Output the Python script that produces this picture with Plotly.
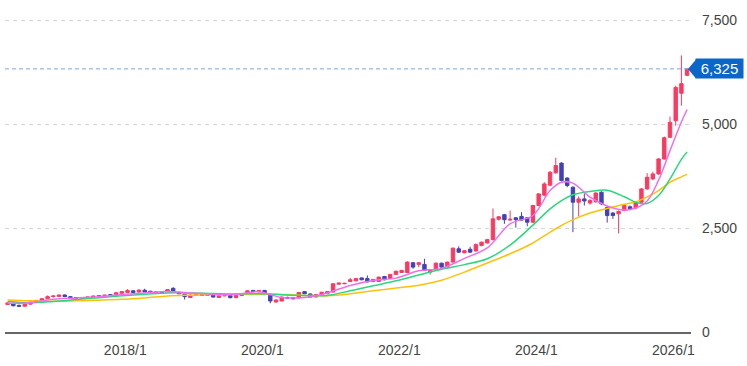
import plotly.graph_objects as go

# ---------------- data (monthly candles, 2016/5 .. 2026/4) ----------------
start_year, start_month = 2016, 5
opens = [660, 690, 640, 620, 670, 720, 760, 800, 850, 855, 890, 850, 830, 815, 825, 830,
         860, 870, 900, 880, 930, 950, 990, 960, 1005, 980, 955, 950, 970, 1050, 955, 910,
         830, 885, 895, 880, 895, 830, 870, 875, 825, 875, 945, 1000, 965, 1000, 880, 720,
         745, 830, 820, 820, 970, 915, 840, 900, 920, 960, 1150, 1160, 1215, 1230, 1300, 1285,
         1215, 1215, 1335, 1285, 1385, 1430, 1430, 1665, 1625, 1625, 1440, 1495, 1655, 1560, 1680, 2000,
         1905, 1990, 1950, 2080, 2140, 2220, 2710, 2820, 2690, 2745, 2780, 2745, 2640, 3040, 3290, 3530,
         3830, 4060, 3700, 3480, 3120, 3200, 3100, 3130, 3360, 2990, 2860, 2840, 2920, 3010, 2980, 3120,
         3440, 3680, 3800, 4160, 4680, 5080, 5740, 6170]
highs = [710, 700, 660, 680, 730, 770, 810, 880, 880, 900, 900, 860, 840, 835, 850, 875,
         890, 895, 905, 950, 985, 1030, 1000, 1020, 1040, 990, 975, 960, 1030, 1075, 965, 920,
         900, 910, 905, 905, 900, 880, 890, 885, 930, 930, 1000, 1010, 1005, 1010, 900, 785,
         850, 850, 830, 960, 985, 925, 910, 965, 985, 1170, 1185, 1180, 1300, 1295, 1310, 1360,
         1275, 1330, 1345, 1395, 1475, 1495, 1700, 1680, 1680, 1760, 1505, 1670, 1665, 1690, 2030, 2060,
         1965, 2050, 2130, 2170, 2240, 2970, 2790, 2840, 2920, 2760, 2880, 2760, 3060, 3340, 3600, 3870,
         4190, 4080, 3720, 3500, 3260, 3330, 3200, 3360, 3380, 3010, 2880, 2920, 3060, 3040, 3130, 3460,
         3820, 3850, 4180, 4700, 5180, 5920, 6650, 6340]
lows = [650, 620, 600, 610, 660, 710, 750, 790, 830, 840, 840, 800, 800, 805, 815, 825,
        850, 860, 870, 875, 920, 940, 940, 950, 955, 940, 945, 925, 960, 960, 910, 780,
        820, 875, 870, 870, 830, 820, 860, 810, 815, 865, 940, 965, 955, 930, 690, 710,
        740, 805, 790, 815, 910, 830, 835, 890, 910, 950, 1140, 1150, 1200, 1220, 1245, 1195,
        1205, 1205, 1245, 1275, 1375, 1420, 1420, 1520, 1555, 1470, 1380, 1485, 1545, 1550, 1670, 1900,
        1890, 1900, 1930, 2060, 2130, 2200, 2680, 2600, 2680, 2510, 2670, 2540, 2620, 3020, 3260, 3500,
        3800, 3620, 3480, 2400, 2780, 3040, 3060, 3110, 3050, 2630, 2720, 2370, 2900, 2930, 2950, 3100,
        3420, 3650, 3780, 4140, 4660, 4960, 5440, 6150]
closes = [700, 630, 620, 670, 720, 760, 800, 850, 865, 890, 850, 820, 815, 825, 840, 865,
          875, 885, 880, 945, 970, 1000, 950, 1010, 960, 950, 960, 935, 1020, 970, 920, 850,
          890, 900, 880, 890, 840, 870, 875, 825, 875, 920, 990, 975, 995, 940, 745, 770,
          840, 815, 800, 950, 920, 840, 900, 955, 975, 1160, 1175, 1170, 1255, 1285, 1255, 1205,
          1265, 1320, 1255, 1385, 1460, 1480, 1680, 1560, 1665, 1480, 1495, 1655, 1560, 1680, 2015, 1920,
          1955, 1920, 2100, 2160, 2220, 2720, 2770, 2700, 2710, 2700, 2690, 2640, 3040, 3320, 3560, 3840,
          4000, 3640, 3520, 3120, 3200, 3150, 3160, 3340, 3080, 2800, 2800, 2900, 3040, 2960, 3100, 3440,
          3720, 3800, 4160, 4670, 5040, 5880, 5970, 6325]

ma_months = ["2016/5", "2016/9", "2017/1", "2017/5", "2017/9", "2018/1", "2018/5", "2018/9",
             "2019/1", "2019/5", "2019/9", "2020/1", "2020/3", "2020/5", "2020/9", "2021/1",
             "2021/5", "2021/9", "2022/1", "2022/5", "2022/9", "2023/1", "2023/5", "2023/9",
             "2024/1", "2024/4", "2024/6", "2024/8", "2024/11", "2025/2", "2025/5", "2025/7",
             "2025/9", "2025/11", "2026/1", "2026/3", "2026/4"]
ma_short = [690, 705, 790, 820, 850, 900, 940, 975, 935, 910, 900, 970, 900, 830, 830, 940,
            1120, 1240, 1295, 1470, 1530, 1770, 2020, 2600, 2800, 3400, 3600, 3580, 3240, 3030,
            2930, 2980, 3150, 3650, 4360, 5050, 5350]
ma_mid = [735, 705, 735, 780, 825, 870, 905, 940, 938, 925, 915, 920, 915, 895, 878, 880,
          990, 1110, 1230, 1370, 1510, 1620, 1760, 2090, 2570, 2960, 3160, 3300, 3380, 3410,
          3250, 3120, 3090, 3280, 3680, 4150, 4330]
ma_long = [770, 750, 740, 750, 765, 785, 820, 865, 885, 900, 905, 910, 905, 900, 880, 870,
           917, 990, 1055, 1125, 1245, 1440, 1660, 1880, 2140, 2400, 2560, 2700, 2860, 2970,
           3070, 3130, 3250, 3400, 3600, 3730, 3790]

tick_labels = ["2018/1", "2020/1", "2022/1", "2024/1", "2026/1"]
y_ticks = [0, 2500, 5000, 7500]

# ---------------- build ----------------
months = []
y, m = start_year, start_month
for _ in range(len(closes)):
    months.append(f"{y}/{m}")
    m += 1
    if m > 12:
        m = 1
        y += 1
pos = {lab: i for i, lab in enumerate(months)}
xs = list(range(len(months)))

UP = "#fb3a62"
DOWN = "#4242b6"

fig = go.Figure()
fig.add_trace(go.Candlestick(
    x=xs, open=opens, high=highs, low=lows, close=closes,
    increasing=dict(line=dict(color=UP, width=1), fillcolor=UP),
    decreasing=dict(line=dict(color=DOWN, width=1), fillcolor=DOWN),
    whiskerwidth=0, showlegend=False, hoverinfo="skip"))

ma_x = [pos[lab] for lab in ma_months]
for vals, col in [(ma_long, "#ffc107"), (ma_mid, "#27d97a"), (ma_short, "#ee6ef0")]:
    fig.add_trace(go.Scatter(x=ma_x, y=vals, mode="lines", showlegend=False, hoverinfo="skip",
                             line=dict(color=col, width=1.5, shape="spline", smoothing=1.0)))

Y_MAX = 7981
last = closes[-1]

fig.add_shape(type="line", xref="paper", yref="y", x0=0, x1=0.996, y0=last, y1=last,
              line=dict(color="#7fa4d6", width=1, dash="4px,3px"))
fig.add_shape(type="path", xref="paper", yref="paper", xsizemode="pixel", ysizemode="pixel",
              xanchor=1.0, yanchor=last / Y_MAX,
              path="M -3,0 L 5,-9.5 L 5,9.5 Z", fillcolor="#0b66c9", line=dict(width=0))
fig.add_annotation(xref="paper", yref="y", x=1.0, y=last, xanchor="left", yanchor="middle",
                   xshift=4, text=f"{last:,}", showarrow=False, bgcolor="#0b66c9",
                   width=47, height=19, borderpad=0,
                   font=dict(color="white", size=15, family="Liberation Sans, Arial"))

fig.update_layout(
    width=747, height=366,
    margin=dict(l=5, r=56, t=0, b=34),
    paper_bgcolor="white", plot_bgcolor="white",
    boxgap=0.15,
    font=dict(family="Liberation Sans, Arial", size=14, color="#444"),
    xaxis=dict(range=[-0.46, 119.68], tickvals=[pos[t] + 0.6 for t in tick_labels],
               ticktext=tick_labels, showgrid=False, zeroline=False, showline=True,
               linecolor="#666", linewidth=2, ticks="", rangeslider=dict(visible=False),
               ticklabelstandoff=4, tickfont=dict(size=14, color="#444")),
    yaxis=dict(side="right", range=[0, Y_MAX], tickvals=y_ticks, tickformat=",",
               showgrid=True, gridcolor="#d6d6d6", griddash="4px,4px", zeroline=False,
               showline=False, ticks="", ticklabelstandoff=10,
               tickfont=dict(size=14, color="#444")),
)

fig.write_html("out.html", config={"displayModeBar": False},
               post_script="document.body.style.margin='0';")
